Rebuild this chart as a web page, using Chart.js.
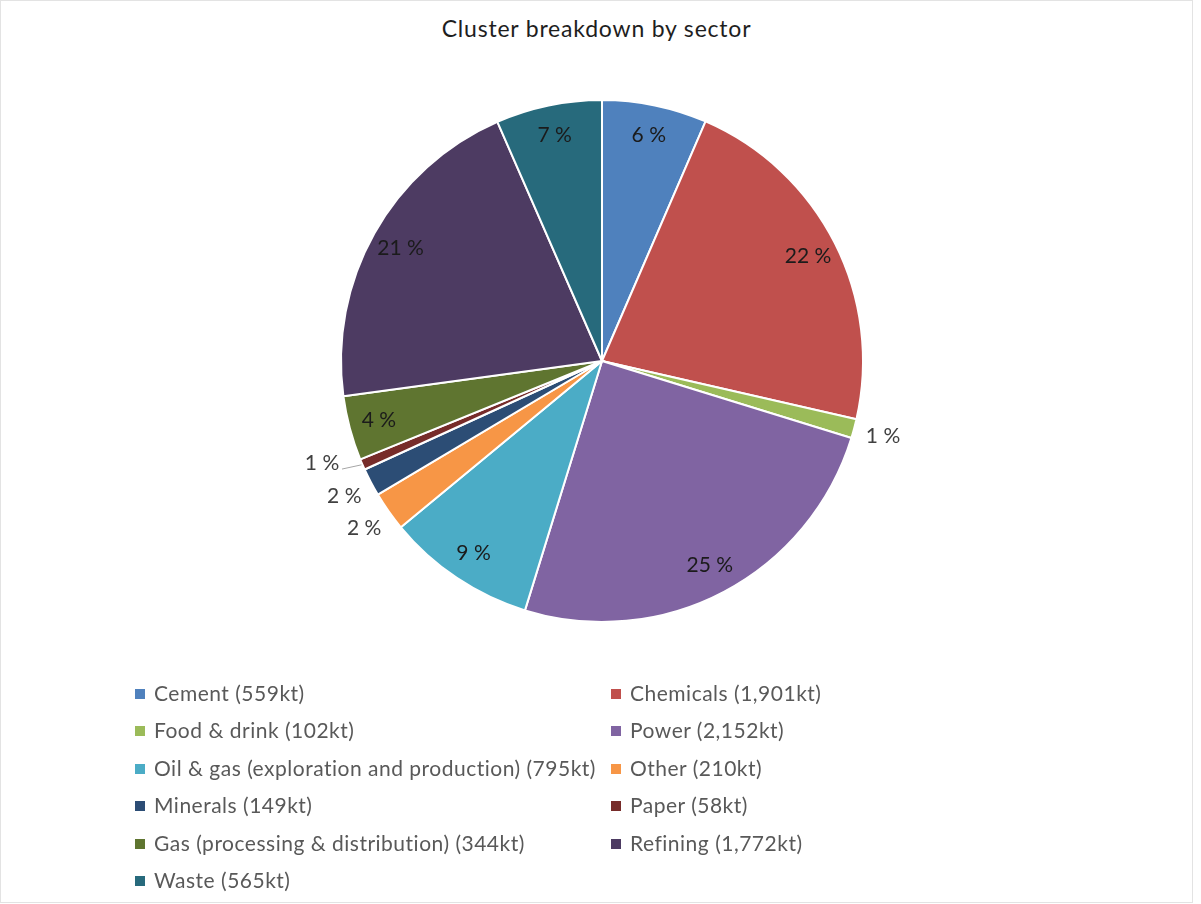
<!DOCTYPE html>
<html>
<head>
<meta charset="utf-8">
<script src="https://cdn.jsdelivr.net/npm/chart.js@4.4.1/dist/chart.umd.min.js"></script>
<style>
  html, body { margin: 0; padding: 0; background: #fff; }
  #frame {
    position: relative;
    width: 1191px;
    height: 901px;
    border: 1px solid #e3e3e3;
    overflow: hidden;
    font-family: Lato, "Open Sans", sans-serif;
  }
  #title {
    position: absolute;
    left: 0; right: 0; top: 13px;
    text-align: center;
    font-size: 23px;
    letter-spacing: 0.8px;
    color: #1e1e1e;
  }
  #pie { position: absolute; left: 0; top: 0; }
  .legend-item {
    position: absolute;
    font-size: 21px;
    letter-spacing: 0.5px;
    color: #595959;
    white-space: nowrap;
    line-height: 24px;
  }
  .legend-item span.box {
    display: inline-block;
    width: 10px; height: 10px;
    margin-right: 9px;
    vertical-align: 2px;
  }
</style>
</head>
<body>
<div id="frame">
  <div id="title">Cluster breakdown by sector</div>
  <canvas id="pie" width="1201" height="904"></canvas>
  <div id="legend"></div>
</div>
<script>
// sector emissions, kt
const sectors = [
  "Cement", "Chemicals", "Food & drink", "Power",
  "Oil & gas (exploration and production)", "Other", "Minerals", "Paper",
  "Gas (processing & distribution)", "Refining", "Waste"
];
const emissions = [559, 1901, 102, 2152, 795, 210, 149, 58, 344, 1772, 565];
const sectorColors = [
  "#4F81BD", "#C0504D", "#9BBB59", "#8064A2",
  "#4BACC6", "#F79646", "#2C4D75", "#772C2A",
  "#5F7530", "#4D3B62", "#276A7C"
];

const total = emissions.reduce((a, b) => a + b, 0);
const fmt = (n) => n.toLocaleString("en-US");

// percentage labels: inside big slices, outside the small ones
const percentLabels = {
  id: "percentLabels",
  afterDatasetsDraw(chart) {
    const ctx = chart.ctx;
    const arcs = chart.getDatasetMeta(0).data;
    ctx.save();
    ctx.font = "21px Lato, 'Open Sans', sans-serif";
    ctx.textAlign = "center";
    ctx.textBaseline = "middle";
    arcs.forEach((arc, i) => {
      const share = emissions[i] / total * 100;
      const text = Math.round(share) + " %";
      const mid = (arc.startAngle + arc.endAngle) / 2;
      const r = arc.outerRadius;
      let dist, angle = mid;
      if (share >= 3) {
        dist = r * 0.885;
        ctx.fillStyle = "#1b1b1b";
      } else if (share >= 1) {
        dist = r + 30;
        ctx.fillStyle = "#404040";
      } else {
        dist = r + 37;
        angle = mid + 0.058;
        ctx.fillStyle = "#404040";
      }
      const x = arc.x + Math.cos(angle) * dist;
      const y = arc.y + Math.sin(angle) * dist;
      if (share < 1) {
        // short leader line back to the slice edge
        ctx.strokeStyle = "#a6a6a6";
        ctx.lineWidth = 1;
        ctx.beginPath();
        ctx.moveTo(x + 20, y + 6);
        ctx.lineTo(arc.x + Math.cos(mid) * (r + 1), arc.y + Math.sin(mid) * (r + 1));
        ctx.stroke();
      }
      ctx.fillText(text, x, y);
    });
    ctx.restore();
  }
};

new Chart(document.getElementById("pie"), {
  type: "pie",
  data: {
    labels: sectors,
    datasets: [{
      data: emissions,
      backgroundColor: sectorColors,
      borderColor: "#ffffff",
      borderWidth: 2,
      hoverOffset: 0
    }]
  },
  options: {
    responsive: false,
    animation: false,
    layout: { padding: { left: 339, right: 338, top: 98, bottom: 282 } },
    plugins: {
      legend: { display: false },
      tooltip: { enabled: false }
    }
  },
  plugins: [percentLabels]
});

// two-column legend
const legend = document.getElementById("legend");
sectors.forEach((name, i) => {
  const item = document.createElement("div");
  item.className = "legend-item";
  item.style.left = (i % 2 === 0 ? 134 : 610) + "px";
  item.style.top = (680 + Math.floor(i / 2) * 37.4) + "px";
  item.innerHTML = '<span class="box" style="background:' + sectorColors[i] + '"></span>';
  item.appendChild(document.createTextNode(name + " (" + fmt(emissions[i]) + "kt)"));
  legend.appendChild(item);
});
</script>
</body>
</html>
